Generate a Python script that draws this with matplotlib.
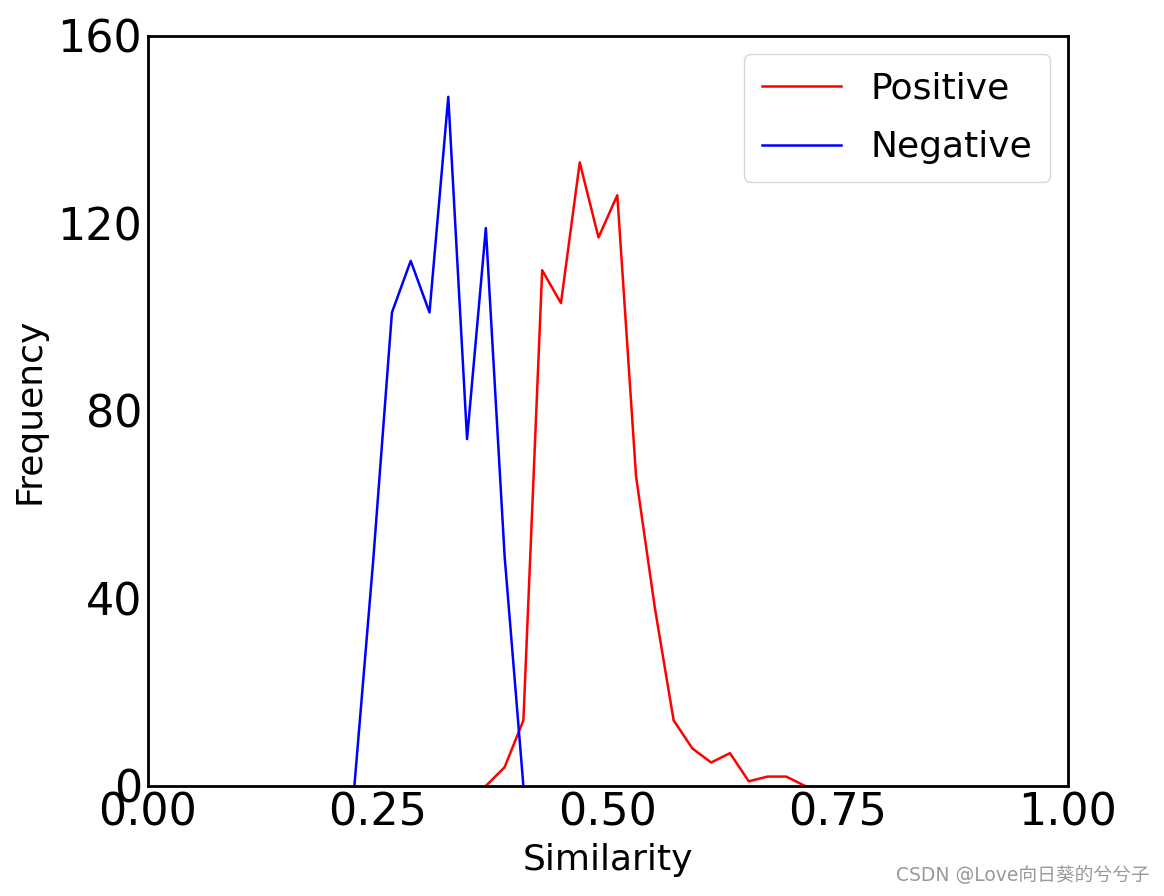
import numpy as np
import matplotlib
matplotlib.use("Agg")
import matplotlib.pyplot as plt

plt.rcParams["font.family"] = ["DejaVu Sans", "Noto Sans CJK SC"]

# histogram bins: 50 edges over [0, 1], values read per bin index
n_bins = 49

blue_idx = [11, 12, 13, 14, 15, 16, 17, 18, 19, 20]
blue_cnt = [0, 48, 101, 112, 101, 147, 74, 119, 49, 0]

red_idx = [18, 19, 20, 21, 22, 23, 24, 25, 26, 27, 28, 29, 30, 31, 32, 33, 34, 35]
red_cnt = [0, 4, 14, 110, 103, 133, 117, 126, 66, 38, 14, 8, 5, 7, 1, 2, 2, 0]

red_label = "Positive"
blue_label = "Negative"
x_label = "Similarity"
y_label = "Frequency"

xticks = [0.0, 0.25, 0.5, 0.75, 1.0]
yticks = [0, 40, 80, 120, 160]

fig = plt.figure(figsize=(11.64, 8.96), dpi=100)
ax = fig.add_axes([0.127, 0.1228, 0.7905, 0.8372])

ax.plot(np.array(red_idx) / n_bins, red_cnt, color="red", lw=1.8, label=red_label)
ax.plot(np.array(blue_idx) / n_bins, blue_cnt, color="blue", lw=1.8, label=blue_label)

ax.set_xlim(0, 1)
ax.set_ylim(0, 160)
ax.set_xticks(xticks)
ax.set_xticklabels(["%.2f" % t for t in xticks])
ax.set_yticks(yticks)
ax.tick_params(length=0, labelsize=32, pad=4)
for s in ax.spines.values():
    s.set_linewidth(2)

ax.set_xlabel(x_label, fontsize=26, labelpad=6)
ax.set_ylabel(y_label, fontsize=26, labelpad=8)

ax.legend(loc="upper right", fontsize=26, handlelength=2.2,
          handletextpad=0.8, borderpad=0.5, labelspacing=0.67,
          framealpha=0.8, bbox_to_anchor=(1.0, 1.0))

fig.text(0.988, 0.012, "CSDN @Love向日葵的兮兮子", ha="right", va="bottom",
         fontsize=13.5, color="#999999",
         family=["DejaVu Sans", "Noto Sans CJK SC"])

fig.savefig("out.png", dpi=100)
